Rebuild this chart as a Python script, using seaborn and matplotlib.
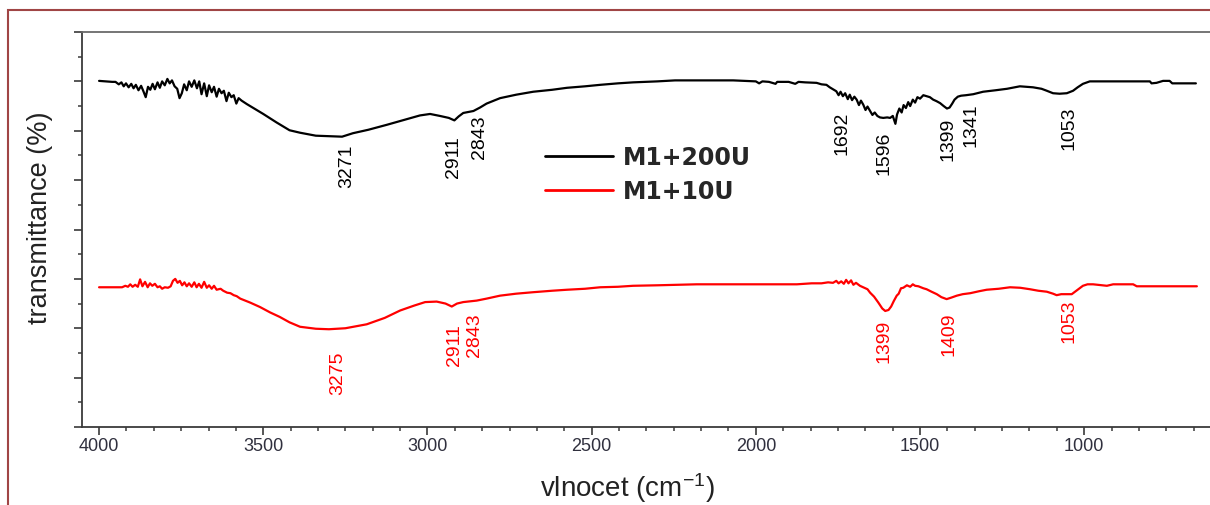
import numpy as np
import pandas as pd
import matplotlib
matplotlib.use("Agg")
import matplotlib.pyplot as plt
from matplotlib.ticker import MultipleLocator, NullFormatter
from matplotlib.patches import Rectangle
import seaborn as sns

# --- datos (numero de onda, transmitancia en unidades arbitrarias) ---
black_wn = [4000, 3960, 3950, 3940, 3932, 3925, 3918, 3910, 3902, 3895, 3888, 3880, 3872, 3865,
            3858, 3851, 3844, 3837, 3830, 3822, 3815, 3808, 3800, 3792, 3785, 3778, 3770, 3762,
            3755, 3748, 3741, 3733, 3726, 3718, 3710, 3702, 3695, 3688, 3680, 3672, 3665, 3657,
            3650, 3642, 3635, 3627, 3620, 3612, 3605, 3597, 3590, 3582, 3575, 3566, 3550, 3520,
            3500, 3460, 3420, 3388, 3340, 3300, 3260, 3227, 3180, 3124, 3060, 3023, 2992, 2962,
            2935, 2918, 2905, 2891, 2860, 2840, 2820, 2779, 2730, 2678, 2620, 2575, 2520, 2474,
            2420, 2374, 2300, 2246, 2150, 2069, 2000, 1990, 1980, 1960, 1940, 1935, 1900, 1880,
            1870, 1850, 1815, 1800, 1785, 1775, 1765, 1755, 1748, 1742, 1735, 1728, 1720, 1714,
            1707, 1700, 1693, 1686, 1680, 1673, 1666, 1660, 1652, 1645, 1638, 1630, 1622, 1612,
            1600, 1591, 1583, 1575, 1570, 1563, 1556, 1550, 1543, 1536, 1530, 1522, 1515, 1508,
            1500, 1490, 1480, 1470, 1460, 1450, 1439, 1428, 1418, 1410, 1402, 1395, 1385, 1375,
            1360, 1338, 1308, 1270, 1235, 1196, 1156, 1130, 1114, 1095, 1075, 1053, 1034, 1020,
            1004, 983, 900, 800, 795, 780, 760, 740, 732, 700, 660]
black_t = [70.1, 69.9, 69.9, 69.4, 69.8, 69.0, 69.6, 68.8, 69.5, 68.6, 69.3, 68.2, 69.1, 68.0,
           66.8, 68.9, 68.3, 69.5, 68.4, 69.8, 68.7, 70.0, 69.2, 70.5, 69.6, 70.2, 69.0, 68.5,
           66.6, 67.6, 69.4, 68.2, 70.0, 68.9, 70.2, 68.6, 70.0, 67.4, 69.6, 67.0, 69.2, 67.8,
           68.9, 66.9, 68.5, 67.6, 68.1, 66.0, 67.7, 66.8, 67.2, 65.5, 66.6, 66.1, 65.4, 64.2,
           63.4, 61.7, 60.1, 59.6, 59.0, 58.9, 58.8, 59.5, 60.2, 61.2, 62.4, 63.1, 63.4, 63.0,
           62.6, 62.1, 62.9, 63.6, 64.0, 64.7, 65.5, 66.6, 67.3, 67.9, 68.3, 68.7, 69.0, 69.3,
           69.6, 69.8, 70.0, 70.2, 70.2, 70.2, 70.0, 69.6, 70.0, 69.9, 69.5, 69.9, 69.9, 69.5,
           69.9, 69.8, 69.7, 69.4, 69.3, 68.8, 68.4, 68.0, 67.2, 67.9, 67.0, 67.6, 66.4, 67.3,
           66.2, 66.9, 66.3, 65.2, 66.1, 65.3, 64.2, 64.9, 64.0, 63.2, 63.7, 63.0, 62.7, 62.6,
           62.7, 62.6, 63.0, 61.4, 63.3, 64.5, 63.7, 65.2, 64.6, 65.8, 65.0, 66.3, 65.7, 66.8,
           66.5, 67.2, 67.0, 66.8, 66.3, 66.0, 65.6, 65.0, 64.5, 64.7, 65.5, 66.3, 66.9, 67.1,
           67.2, 67.4, 67.9, 68.2, 68.5, 69.0, 68.8, 68.5, 68.1, 67.6, 67.5, 67.6, 68.1, 68.8,
           69.5, 70.0, 70.0, 70.0, 69.6, 69.7, 70.1, 70.1, 69.6, 69.6, 69.6]

red_wn = [4000, 3930, 3920, 3912, 3905, 3898, 3890, 3882, 3875, 3868, 3860, 3852, 3845, 3838,
          3830, 3822, 3815, 3808, 3800, 3790, 3782, 3775, 3768, 3761, 3754, 3747, 3740, 3733,
          3726, 3718, 3710, 3703, 3696, 3688, 3680, 3672, 3665, 3657, 3650, 3642, 3630, 3622,
          3610, 3600, 3590, 3581, 3570, 3540, 3510, 3479, 3450, 3420, 3388, 3340, 3300, 3250,
          3185, 3130, 3083, 3040, 3007, 2972, 2945, 2926, 2910, 2891, 2850, 2820, 2779, 2730,
          2678, 2620, 2575, 2520, 2474, 2420, 2374, 2300, 2180, 2070, 1966, 1875, 1830, 1800,
          1780, 1765, 1755, 1748, 1740, 1732, 1725, 1718, 1710, 1703, 1695, 1683, 1670, 1660,
          1652, 1640, 1627, 1615, 1606, 1596, 1588, 1580, 1571, 1565, 1558, 1551, 1540, 1530,
          1522, 1515, 1505, 1490, 1480, 1465, 1449, 1435, 1419, 1405, 1388, 1370, 1347, 1320,
          1297, 1260, 1226, 1195, 1165, 1140, 1114, 1095, 1084, 1070, 1053, 1038, 1020, 1004,
          990, 973, 945, 931, 912, 851, 840, 657]
red_t = [28.3, 28.3, 28.6, 28.4, 28.9, 28.4, 28.8, 28.4, 29.9, 28.5, 29.4, 28.3, 29.1, 28.6,
         29.0, 28.3, 28.5, 28.0, 28.3, 28.2, 28.5, 29.6, 30.0, 29.2, 29.6, 28.7, 29.3, 28.5,
         29.1, 28.4, 29.3, 28.3, 29.0, 28.2, 29.4, 28.2, 28.7, 28.0, 28.6, 27.8, 28.0, 27.6,
         27.2, 27.1, 26.7, 26.5, 26.0, 25.2, 24.3, 23.2, 22.3, 21.2, 20.3, 19.9, 19.8, 20.0,
         20.8, 22.1, 23.6, 24.6, 25.3, 25.4, 25.0, 24.4, 25.0, 25.3, 25.6, 26.0, 26.6, 27.0,
         27.3, 27.6, 27.8, 28.0, 28.3, 28.4, 28.6, 28.7, 28.9, 28.9, 28.9, 28.9, 29.1, 29.1,
         29.3, 29.2, 29.6, 29.1, 29.5, 29.0, 29.8, 29.1, 29.7, 28.8, 29.2, 28.6, 28.2, 27.9,
         27.2, 26.4, 25.2, 24.0, 23.5, 23.7, 24.4, 25.5, 26.6, 27.0, 28.1, 28.2, 28.7, 28.4,
         28.9, 28.6, 28.5, 28.1, 27.9, 27.4, 26.9, 26.3, 25.9, 26.2, 26.6, 26.9, 27.1, 27.5,
         27.8, 28.0, 28.3, 28.2, 27.9, 27.6, 27.4, 27.0, 26.7, 26.9, 26.9, 26.9, 27.8, 28.6,
         28.9, 28.9, 28.7, 28.6, 28.9, 28.9, 28.5, 28.5]

series_names = ["M1+200U", "M1+10U"]
series_colors = ["black", "red"]

# etiquetas de picos: texto, posicion x, posicion y
black_peaks = ["3271", "2911", "2843", "1692", "1596", "1399", "1341", "1053"]
black_peak_x = [3245, 2922, 2843, 1738, 1610, 1415, 1345, 1046]
black_peak_y = [53.0, 54.9, 58.9, 59.7, 55.7, 58.5, 61.3, 60.7]
red_peaks = ["3275", "2911", "2843", "1399", "1409", "1053"]
red_peak_x = [3272, 2919, 2858, 1610, 1412, 1046]
red_peak_y = [11.1, 16.8, 18.8, 17.6, 19.0, 21.7]

# --- tabla larga para seaborn ---
df = pd.concat([
    pd.DataFrame({"wn": black_wn, "t": black_t, "muestra": series_names[0]}),
    pd.DataFrame({"wn": red_wn, "t": red_t, "muestra": series_names[1]}),
], ignore_index=True)

sns.set_style("ticks")
plt.rcParams["font.family"] = ["Liberation Sans", "DejaVu Sans"]
plt.rcParams["mathtext.default"] = "regular"

W, H = 1210, 506
fig = plt.figure(figsize=(W / 100, H / 100), dpi=100)
ax = fig.add_axes([82 / W, 1 - 428 / H, 1 - 82 / W, (428 - 33) / H])

sns.lineplot(data=df, x="wn", y="t", hue="muestra", palette=dict(zip(series_names, series_colors)),
             estimator=None, sort=False, linewidth=1.6, ax=ax)

ax.set_xlim(4052, 617)
ax.set_ylim(0, 80)

# ejes y marcas
ax.xaxis.set_major_locator(MultipleLocator(500))
ax.xaxis.set_minor_locator(MultipleLocator(500 / 6))
ax.yaxis.set_major_locator(MultipleLocator(10))
ax.yaxis.set_minor_locator(MultipleLocator(5))
ax.yaxis.set_major_formatter(NullFormatter())
ax.spines["right"].set_visible(False)
for s in ["left", "bottom"]:
    ax.spines[s].set_color("#3a3a3a")
    ax.spines[s].set_linewidth(1.3)
ax.spines["top"].set_color("#6a6a6a")
ax.spines["top"].set_linewidth(1.3)
ax.tick_params(axis="both", which="major", direction="out", length=5.5, width=1.2, color="#3a3a3a")
ax.tick_params(axis="both", which="minor", direction="out", length=3, width=1.1, color="#3a3a3a")
ax.tick_params(axis="x", which="major", labelsize=13, labelcolor="#30303e", pad=2)
ax.set_xlabel("")
ax.set_ylabel("")

# etiquetas de los picos
for txt, x, y in zip(black_peaks, black_peak_x, black_peak_y):
    ax.text(x, y, txt, rotation=90, ha="center", va="center", fontsize=14, color="black")
for txt, x, y in zip(red_peaks, red_peak_x, red_peak_y):
    ax.text(x, y, txt, rotation=90, ha="center", va="center", fontsize=14, color="red")

# leyenda
leg = ax.legend(loc="upper left", bbox_to_anchor=(545 / W, 1 - 146 / H), bbox_transform=fig.transFigure,
                frameon=False, borderpad=0, borderaxespad=0, handlelength=2.9, handletextpad=0.38,
                labelspacing=0.44, prop={"family": "DejaVu Sans", "weight": "bold", "size": 17})
for line in leg.get_lines():
    line.set_linewidth(2.0)

# titulos de ejes
fig.text(40 / W, 1 - 218 / H, "transmittance (%)",
         rotation=90, ha="center", va="center", fontsize=19.5, color="#222222")
fig.text(627 / W, 1 - 497 / H, "vlnocet (cm$^{-1}$)", ha="center", va="baseline",
         fontsize=20, color="#222222")

# marco rojo
fig.patches.append(Rectangle((8 / W, -0.2), 1.5, 1 - 11 / H + 0.2, transform=fig.transFigure,
                             fill=False, edgecolor="#a04545", linewidth=1.5))

fig.savefig("out.png", dpi=100)
